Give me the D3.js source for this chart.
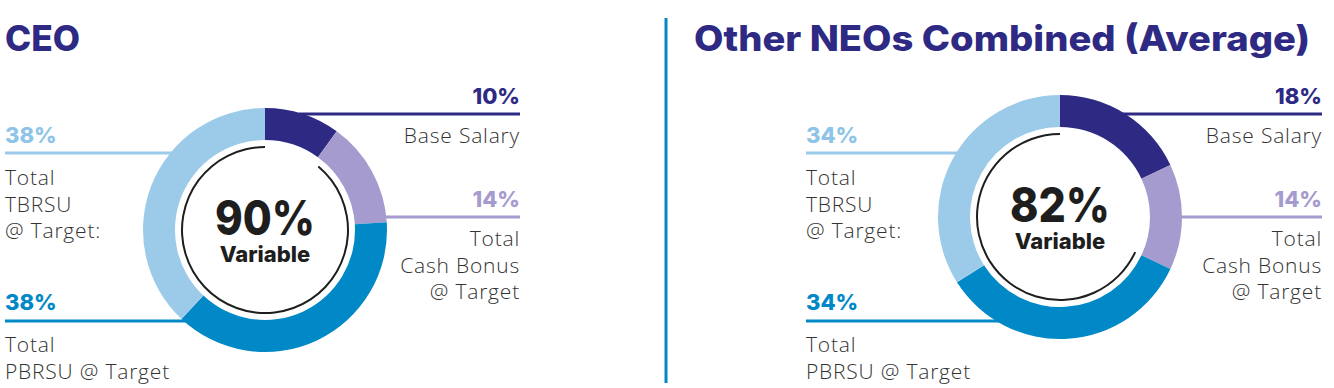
<!DOCTYPE html>
<html>
<head>
<meta charset="utf-8">
<script src="https://cdn.jsdelivr.net/npm/d3@7"></script>
<style>
	html, body { margin: 0; padding: 0; background: #fff; }
	svg { display: block; }
	.title { font-family: Inter, sans-serif; font-weight: 800; fill: #2e2a84; }
	.pct { font-family: Inter, sans-serif; font-weight: 800; }
	.lbl { font-family: 'Open Sans', sans-serif; font-weight: 300; fill: #333; letter-spacing: 0.8px; }
	.center { font-family: Inter, sans-serif; font-weight: 800; fill: #1e1e1e; }
</style>
</head>
<body>
<div id="chart"></div>
<script>
// data
const titles = ['CEO', 'Other NEOs Combined (Average)'];
const categories = ['Base Salary', 'Total Cash Bonus @ Target', 'Total PBRSU @ Target', 'Total TBRSU @ Target:'];
const labelLines = [
	['Base Salary'],
	['Total', 'Cash Bonus', '@ Target'],
	['Total', 'PBRSU @ Target'],
	['Total', 'TBRSU', '@ Target:']
];
const ceoValues = [10, 14, 38, 38];
const neoValues = [18, 14, 34, 34];
const variablePct = [90, 82];
const colors = ['#2e2a84', '#a59bcf', '#0088c7', '#9ccbea'];
const pctColors = ['#2e2a84', '#a59bcf', '#0088c7', '#8ec4e8'];

(() => {
	const width = 1334;
	const height = 388;
	const svg = d3.select('#chart').append('svg')
		.attr('width', width)
		.attr('height', height);

	const outerR = 122;
	const innerR = 90;
	const ringR = 83;

	// panel layout: center of donut, left text x, right text x
	const panels = [
		{ cx: 265, cy: 230, left: 5, right: 520, titleX: 5, titleW: 75, arcGap: 40 },
		{ cx: 1060, cy: 217, left: 806, right: 1322, titleX: 694, titleW: 616, arcGap: 115 }
	];
	// label slots: where each category's percent/line/text goes
	const slots = [
		{ side: 'right', pctY: 104, lineY: 114, textY: 143 },
		{ side: 'right', pctY: 207, lineY: 217, textY: 246 },
		{ side: 'left', pctY: 310, lineY: 321, textY: 352 },
		{ side: 'left', pctY: 143, lineY: 153, textY: 185 }
	];
	const lineGap = 26.5;

	const pie = d3.pie().sort(null).value(d => d);
	const arc = d3.arc().innerRadius(innerR).outerRadius(outerR);
	const toRad = d => d * Math.PI / 180;

	// divider
	svg.append('line')
		.attr('x1', 666).attr('x2', 666)
		.attr('y1', 18).attr('y2', 383)
		.attr('stroke', '#0088c7')
		.attr('stroke-width', 3);

	[ceoValues, neoValues].forEach((values, p) => {
		const pan = panels[p];
		const g = svg.append('g');

		g.append('text')
			.attr('class', 'title')
			.attr('x', pan.titleX)
			.attr('y', 51)
			.attr('textLength', pan.titleW)
			.attr('lengthAdjust', 'spacingAndGlyphs')
			.style('font-size', '35px')
			.text(titles[p]);

		// leader lines (from donut edge to text column)
		values.forEach((v, i) => {
			const s = slots[i];
			const dy = s.lineY - pan.cy;
			const dx = Math.sqrt(Math.max(0, outerR * outerR - dy * dy));
			const edge = s.side === 'right' ? pan.cx + dx - 4 : pan.cx - dx + 4;
			const end = s.side === 'right' ? pan.right : pan.left;
			g.append('line')
				.attr('x1', edge).attr('x2', end)
				.attr('y1', s.lineY).attr('y2', s.lineY)
				.attr('stroke', colors[i])
				.attr('stroke-width', 3);

			const anchor = s.side === 'right' ? 'end' : 'start';
			g.append('text')
				.attr('class', 'pct')
				.attr('x', end)
				.attr('y', s.pctY)
				.attr('text-anchor', anchor)
				.style('font-size', '22px')
				.style('fill', pctColors[i])
				.text(`${v}%`);

			const t = g.append('text')
				.attr('class', 'lbl')
				.attr('text-anchor', anchor)
				.style('font-size', '21px');
			labelLines[i].forEach((line, k) => {
				t.append('tspan')
					.attr('x', end)
					.attr('y', s.textY + k * lineGap)
					.text(line);
			});
		});

		// donut
		const donut = g.append('g')
			.attr('transform', `translate(${pan.cx}, ${pan.cy})`);
		donut.selectAll('.slice')
			.data(pie(values))
			.enter().append('path')
				.attr('class', 'slice')
				.attr('d', arc)
				.attr('fill', (d, i) => colors[i]);

		// thin inner arc
		const ring = d3.arc()
			.innerRadius(ringR - 1)
			.outerRadius(ringR + 1)
			.startAngle(toRad(pan.arcGap))
			.endAngle(toRad(360));
		donut.append('path')
			.attr('d', ring())
			.attr('fill', '#1e1e1e');

		// center label as one text block
		const center = donut.append('text')
			.attr('class', 'center')
			.attr('text-anchor', 'middle');
		center.append('tspan')
			.attr('x', 0)
			.attr('y', 5)
			.attr('textLength', 100)
			.attr('lengthAdjust', 'spacingAndGlyphs')
			.style('font-size', '48px')
			.text(`${variablePct[p]}%`);
		center.append('tspan')
			.attr('x', 0)
			.attr('y', 32)
			.style('font-size', '22px')
			.text('Variable');
	});
})();
</script>
</body>
</html>
